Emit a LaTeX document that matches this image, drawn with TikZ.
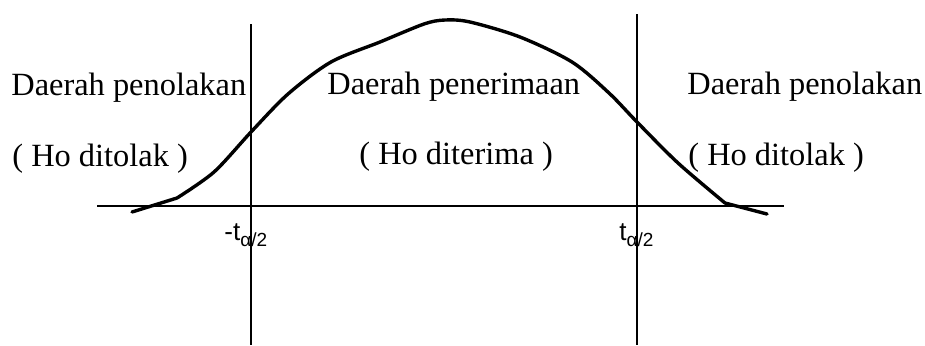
\documentclass[tikz,border=0pt]{standalone}
\usepackage{fontspec}
\setmainfont{Liberation Serif}
\newfontfamily\labfont{Liberation Sans}
\tikzset{
  region/.style={anchor=base west, inner sep=0pt, font=\fontsize{16.2}{19}\selectfont},
  tlab/.style={anchor=base west, inner sep=0pt, font=\labfont\fontsize{13}{15}\selectfont},
  thinline/.style={line width=0.75pt},
  curveline/.style={line width=1.7pt, line join=round, line cap=round}
}
\newcommand{\tsub}{\raisebox{-0.5ex}{\fontsize{9.5}{11}\selectfont α/2}}
\begin{document}
\begin{tikzpicture}[x=0.5pt,y=-0.5pt]
\useasboundingbox (0,0) rectangle (925,345);
% coordinates
\coordinate (axL) at (97,206);
\coordinate (axR) at (784,206);
\coordinate (vLt) at (251,24);
\coordinate (vLb) at (251,345);
\coordinate (vRt) at (637,14);
\coordinate (vRb) at (637,345);
% axis and critical lines
\draw[thinline] (axL) -- (axR);
\draw[thinline] (vLt) -- (vLb);
\draw[thinline] (vRt) -- (vRb);
% curve
\draw[curveline] (132,212) -- (177,198)
  plot[smooth, tension=0.5] coordinates {(177,198) (214,172) (251,132) (288,94) (331,62) (380,42) (424,24) (445,20) (470,22) (520,37) (572,62) (609,93) (637,122) (678,163) (725,203)}
  -- (767,214);
% labels
\node[region] (rl1) at (11,95) {Daerah penolakan};
\node[region] (rl2) at (12,166) {( Ho ditolak )};
\node[region] (ac1) at (327,94) {Daerah penerimaan};
\node[region] (ac2) at (359,164) {( Ho diterima )};
\node[region] (rr1) at (687,94) {Daerah penolakan};
\node[region] (rr2) at (688,165) {( Ho ditolak )};
\node[tlab] (tl) at (224,240) {-t\tsub};
\node[tlab] (tr) at (619,240) {t\tsub};
\end{tikzpicture}
\end{document}
